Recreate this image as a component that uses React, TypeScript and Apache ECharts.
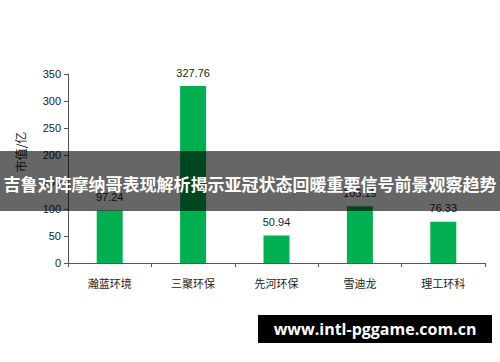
import React, { useEffect, useRef } from "react";
import * as echarts from "echarts";

const categories = ["瀚蓝环境", "三聚环保", "先河环保", "雪迪龙", "理工环科"];
const marketValues = [97.24, 327.76, 50.94, 105.19, 76.33];
const yAxisName = "市值/亿";
const titleText = "吉鲁对阵摩纳哥表现解析揭示亚冠状态回暖重要信号前景观察趋势";
const watermarkText = "www.intl-pggame.com.cn";

const FONT = "'Liberation Sans', 'Noto Sans CJK SC', sans-serif";

export default function App() {
  const ref = useRef<HTMLDivElement>(null);
  useEffect(() => {
    if (!ref.current) return;
    const chart = echarts.init(ref.current, null, { renderer: "svg" });
    chart.setOption({
      animation: false,
      backgroundColor: "#ffffff",
      grid: { left: 68, right: 15, top: 74, bottom: 99 },
      xAxis: {
        type: "category",
        data: categories,
        boundaryGap: true,
        axisLine: { lineStyle: { color: "#555", width: 1 } },
        axisTick: { show: true, length: 4, alignWithLabel: false, lineStyle: { color: "#555" } },
        axisLabel: { color: "#222", fontSize: 11, margin: 14, fontFamily: "'Noto Sans CJK SC', sans-serif" },
      },
      yAxis: {
        type: "value",
        min: 0,
        max: 350,
        interval: 50,
        splitLine: { show: false },
        axisLine: { show: true, lineStyle: { color: "#555", width: 1 } },
        axisTick: { show: true, length: 4, lineStyle: { color: "#555" } },
        axisLabel: { color: "#222", fontSize: 11, margin: 7, fontFamily: FONT },
      },
      series: [
        {
          type: "bar",
          data: marketValues,
          barWidth: 26,
          itemStyle: { color: "#00b050" },
          label: {
            show: true,
            position: "top",
            distance: 8,
            color: "#222",
            fontSize: 11,
            fontFamily: FONT,
            formatter: (p: any) => Number(p.value).toFixed(2),
          },
        },
      ],
      graphic: [
        {
          type: "text",
          x: 20,
          y: 152,
          rotation: Math.PI / 2,
          style: {
            text: yAxisName,
            fill: "#222",
            fontSize: 12,
            fontFamily: "'Noto Sans CJK SC', sans-serif",
            align: "center",
            verticalAlign: "middle",
          },
        },
        {
          type: "rect",
          shape: { x: 0, y: 151, width: 500, height: 60 },
          style: { fill: "rgba(0,0,0,0.6)" },
          z: 100,
        },
        {
          type: "text",
          x: 250,
          y: 183,
          style: {
            text: titleText,
            fill: "#ffffff",
            fontSize: 17,
            fontWeight: "bold",
            fontFamily: "'Noto Sans CJK SC', sans-serif",
            align: "center",
            verticalAlign: "middle",
          },
          z: 101,
        },
        {
          type: "rect",
          shape: { x: 258, y: 315, width: 234, height: 28 },
          style: { fill: "#000000" },
          z: 100,
        },
        {
          type: "text",
          x: 375,
          y: 329,
          style: {
            text: watermarkText,
            fill: "#ffffff",
            fontSize: 16,
            fontWeight: "bold",
            fontFamily: "'Open Sans', 'DejaVu Sans', sans-serif",
            align: "center",
            verticalAlign: "middle",
          },
          z: 101,
        },
      ],
    });
    return () => chart.dispose();
  }, []);
  return <div ref={ref} style={{ width: 500, height: 362, position: "absolute", left: 0, top: 0 }} />;
}
